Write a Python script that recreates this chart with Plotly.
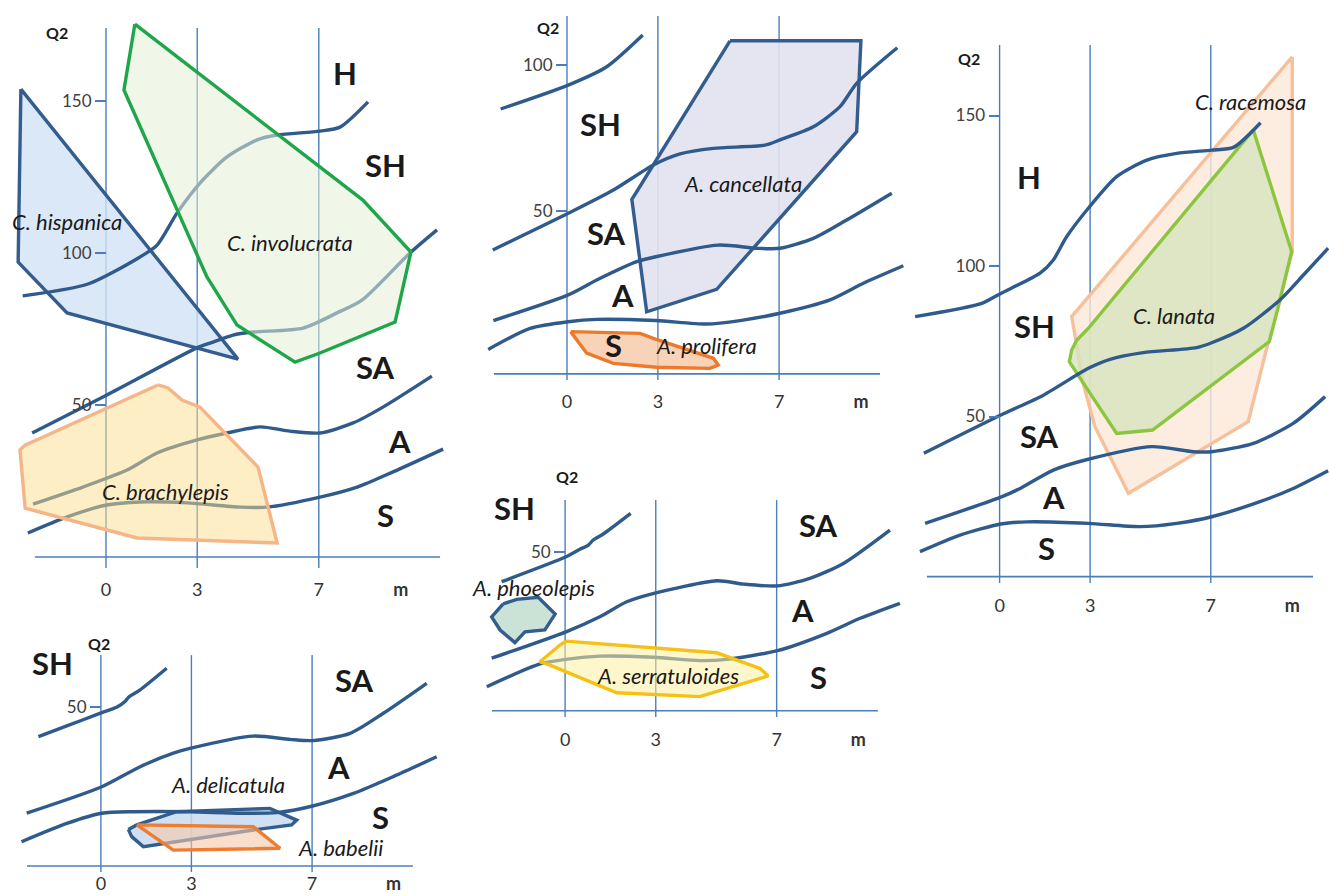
import plotly.graph_objects as go

W, H = 1329, 896
FONT = "Lato"
CURVE = "#2f5a8c"
GRID = "#4a7ebb"
TXT = "#1a1a1a"

# ----------------------------- DATA (x = m, y = Q2) -----------------------------
# Panel 1 : C. hispanica / C. involucrata / C. brachylepis
p1_hsh_m = [-2.74, -0.59, 1.12, 1.68, 2.34, 3.09, 3.98, 4.97, 5.63, 7.04, 7.70, 8.62]
p1_hsh_q = [85.9, 89.8, 98.7, 102.6, 113.2, 123.0, 131.6, 137.2, 138.8, 140.1, 141.4, 149.7]
p1_shsa_m = [-2.43, 0.03, 2.99, 3.52, 4.18, 4.84, 6.48, 7.60, 8.42, 10.0, 10.89]
p1_shsa_q = [40.8, 53.3, 68.8, 70.7, 73.0, 74.0, 75.3, 80.3, 84.5, 100.0, 107.6]
p1_saa_m = [-2.40, -0.76, 0.69, 1.68, 2.99, 3.98, 5.07, 6.05, 7.04, 8.13, 9.11, 10.72]
p1_saa_q = [17.4, 23.0, 28.6, 34.2, 38.5, 40.8, 42.8, 41.4, 40.8, 44.1, 49.3, 59.5]
p1_as_m = [-2.57, -1.28, 0.03, 1.12, 2.66, 4.41, 5.30, 7.04, 8.26, 9.44, 11.09]
p1_as_q = [7.9, 13.2, 17.1, 18.1, 17.8, 16.4, 16.4, 19.7, 23.0, 28.0, 35.5]
hispanica_m = [-2.80, 4.34, -1.28, -2.89]
hispanica_q = [153.9, 65.1, 80.3, 97.0]
involucrata_m = [0.95, 0.59, 3.32, 4.31, 6.22, 7.04, 9.51, 9.67, 10.03, 8.45]
involucrata_q = [175.3, 153.6, 92.1, 76.3, 64.1, 67.1, 77.3, 84.5, 100.3, 117.4]
brachylepis_m = [1.71, 2.04, 2.50, 3.09, 5.00, 5.63, 1.02, -2.66, -2.83, -2.66]
brachylepis_q = [56.6, 55.6, 51.6, 49.3, 29.6, 4.6, 6.25, 16.1, 35.2, 36.8]

# Panel 2 : A. cancellata / A. prolifera
p2_top_m = [-2.19, 0.04, 1.31, 2.50]
p2_top_q = [84.9, 93.1, 99.4, 110.3]
p2_shsa_m = [-2.45, 0.04, 1.53, 2.85, 3.73, 4.83, 6.53, 7.03, 8.13, 9.01, 9.56, 10.90]
p2_shsa_q = [36.5, 49.1, 57.1, 65.7, 69.5, 71.4, 72.5, 74.3, 78.8, 85.7, 93.7, 105.9]
p2_saa_m = [-2.43, 0.04, 0.98, 2.30, 2.93, 4.99, 6.26, 7.03, 8.13, 9.23, 10.72]
p2_saa_q = [12.3, 21.1, 26.2, 32.5, 34.2, 38.2, 37.1, 37.1, 40.5, 46.8, 56.0]
p2_as_m = [-2.60, -1.22, 0.04, 0.98, 2.93, 4.61, 5.71, 7.03, 8.68, 9.78, 11.10]
p2_as_q = [2.4, 9.6, 11.9, 12.7, 12.3, 11.1, 12.3, 14.8, 19.4, 25.1, 31.1]
cancellata_m = [5.38, 9.70, 9.56, 4.94, 2.63, 2.14, 2.30]
cancellata_q = [108.3, 108.3, 77.1, 23.0, 15.3, 53.9, 56.5]
prolifera_m = [0.12, 2.41, 2.85, 4.83, 4.99, 4.72, 2.96, 1.53, 0.65]
prolifera_q = [8.5, 7.9, 6.2, -0.65, -2.95, -4.1, -3.7, -2.4, 1.1]

# Panel 3 : C. racemosa / C. lanata
p3_hsh_m = [-2.80, -0.59, 0.04, 1.34, 1.78, 2.22, 2.94, 3.88, 4.88, 5.87, 7.03, 7.75, 8.65]
p3_hsh_q = [83.2, 87.6, 90.9, 97.6, 102.0, 109.7, 119.2, 129.7, 135.2, 137.4, 138.5, 139.4, 147.6]
p3_shsa_m = [-2.51, 0.04, 1.45, 2.94, 3.66, 4.76, 6.53, 7.03, 8.08, 9.29, 10.07, 10.89]
p3_shsa_q = [37.8, 50.5, 57.1, 66.0, 69.0, 71.2, 72.9, 74.5, 79.3, 88.7, 97.0, 105.9]
p3_saa_m = [-2.47, 0.04, 0.68, 1.78, 2.94, 5.04, 6.42, 7.03, 8.41, 9.73, 10.79]
p3_saa_q = [14.5, 23.2, 26.1, 32.2, 35.8, 40.0, 38.3, 38.3, 41.1, 47.7, 56.6]
p3_as_m = [-2.64, -1.31, 0.04, 0.90, 2.94, 4.65, 5.87, 7.03, 8.63, 9.73, 10.89]
p3_as_q = [5.1, 10.6, 14.3, 15.0, 14.5, 13.4, 14.5, 16.7, 21.7, 26.1, 32.0]
racemosa_m = [9.70, 9.70, 8.91, 8.24, 4.27, 3.16, 2.77, 2.39]
racemosa_q = [169.5, 104.8, 74.9, 48.3, 24.5, 46.6, 61.0, 83.2]
lanata_m = [8.41, 9.68, 9.24, 8.94, 5.07, 3.88, 3.00, 2.47, 2.31, 2.39, 2.56, 2.94]
lanata_q = [145.2, 104.8, 86.5, 74.9, 45.5, 44.4, 57.7, 66.0, 68.2, 72.1, 75.4, 79.3]

# Panel 4 : A. delicatula / A. babelii
p4_top_m = [-2.07, -1.13, 0.03, 0.52, 0.80, 0.91, 1.30, 2.18]
p4_top_q = [40.1, 43.7, 48.1, 49.9, 51.8, 53.2, 55.7, 62.9]
p4_saa_m = [-2.46, 0.03, 1.30, 2.40, 2.95, 5.05, 6.27, 7.02, 8.26, 9.36, 10.80]
p4_saa_q = [14.6, 23.4, 30.1, 34.6, 36.2, 40.3, 39.2, 38.8, 41.2, 47.9, 57.9]
p4_as_m = [-2.63, -1.13, 0.03, 1.07, 2.95, 4.61, 5.83, 7.02, 8.37, 9.69, 11.13]
p4_as_q = [5.1, 11.2, 14.6, 15.1, 15.1, 14.6, 14.8, 17.0, 21.2, 26.8, 33.4]
delicatula_m = [0.91, 1.19, 2.51, 5.60, 6.49, 6.32, 5.05, 1.41, 1.02]
delicatula_q = [9.2, 10.7, 15.1, 16.2, 12.3, 10.7, 9.0, 3.4, 6.8]
babelii_m = [1.19, 5.05, 5.94, 2.40]
babelii_q = [10.7, 10.1, 2.9, 2.3]

# Panel 5 : A. phoeolepis / A. serratuloides
p5_top_m = [-2.10, 0.03, 0.49, 0.77, 0.93, 1.26, 2.17]
p5_top_q = [40.0, 48.3, 50.8, 52.2, 53.9, 55.9, 62.8]
p5_saa_m = [-2.43, 0.03, 1.15, 2.04, 2.94, 5.02, 5.90, 7.02, 8.10, 9.21, 10.75]
p5_saa_q = [14.5, 23.3, 28.3, 33.3, 36.1, 40.3, 39.2, 38.6, 41.1, 46.1, 57.2]
p5_as_m = [-2.59, -0.83, 0.03, 1.15, 2.94, 4.46, 5.35, 7.02, 8.66, 9.76, 11.08]
p5_as_q = [5.0, 12.6, 14.1, 15.2, 14.8, 13.7, 14.1, 17.0, 22.8, 27.8, 32.8]
phoeolepis_m = [-2.05, -1.60, -0.89, -0.33, -0.67, -1.33, -1.66, -2.15, -2.43]
phoeolepis_q = [32.6, 34.1, 34.8, 29.2, 23.9, 23.3, 19.7, 23.9, 28.3]
serratuloides_m = [0.03, 5.02, 6.45, 6.72, 4.46, 1.71, -0.50, -0.83, -0.17]
serratuloides_q = [20.2, 16.3, 11.1, 8.6, 1.7, 3.0, 12.2, 13.3, 18.9]

# tick labels
x_ticks = [0, 3, 7]
x_tick_text = ["0", "3", "7"]
x_unit = "m"
y_unit = "Q2"
y_ticks = {1: [50, 100, 150], 2: [50, 100], 3: [50, 100, 150], 4: [50], 5: [50]}

# text labels: (text, m, Q2)
zone_labels = {
    1: [("H", 7.86, 159.2), ("SH", 9.21, 128.9), ("SA", 8.88, 62.5), ("A", 9.64, 38.2), ("S", 9.21, 13.8)],
    2: [("SH", 1.12, 79.8), ("SA", 1.29, 42.3), ("A", 1.82, 21.1), ("S", 1.55, 3.9)],
    3: [("H", 0.97, 129.6), ("SH", 1.17, 80.1), ("SA", 1.31, 43.5), ("A", 1.80, 23.3), ("S", 1.54, 6.3)],
    4: [("SH", -1.59, 64.7), ("SA", 8.39, 59.0), ("A", 7.89, 30.0), ("S", 9.28, 13.2)],
    5: [("SH", -1.66, 64.6), ("SA", 8.37, 58.9), ("A", 7.84, 30.6), ("S", 8.40, 8.2)],
}
species_labels = {
    1: [("C. hispanica", -1.28, 110.5), ("C. involucrata", 6.05, 103.6), ("C. brachylepis", 1.97, 21.4)],
    2: [("A. cancellata", 5.81, 59.5), ("A. prolifera", 4.62, 3.9)],
    3: [("C. racemosa", 8.30, 154.5), ("C. lanata", 5.78, 83.4)],
    4: [("A. delicatula", 4.21, 24.3), ("A. babelii", 7.93, 3.2)],
    5: [("A. phoeolepis", -1.06, 38.2), ("A. serratuloides", 3.41, 8.6)],
}
q2_label_pos = {1: (-1.61, 172.4), 2: (-0.63, 113.0), 3: (-1.01, 169.1), 4: (-0.06, 71.3), 5: (0.06, 75.2)}
unit_pos = 9.7

# ----------------------------- LAYOUT CONFIG -----------------------------
# box in pixels (left, top, right, bottom); pixel of m=0 and px per m; pixel of Q2=0 and px per Q2
panels = {
    1: dict(box=(0, 0, 455, 600), x0=106, sx=30.4, y0=557, sy=3.04, xlab=587,
            gtop=174, gbot=-3.6, axis=(-2.34, 10.99), base=0.0),
    2: dict(box=(455, 0, 910, 420), x0=567, sx=30.3, y0=356.4, sy=2.914, xlab=399,
            gtop=116.8, gbot=-8.1, axis=(-2.41, 10.33), base=-6.0),
    3: dict(box=(910, 0, 1329, 640), x0=999.6, sx=30.17, y0=567, sy=3.01, xlab=603,
            gtop=173.4, gbot=-5.3, axis=(-2.41, 10.39), base=-3.2),
    4: dict(box=(0, 600, 455, 896), x0=100.9, sx=30.17, y0=857, sy=3.0, xlab=881,
            gtop=67.3, gbot=-5.0, axis=(-2.45, 10.34), base=-3.0),
    5: dict(box=(455, 420, 910, 760), x0=565.1, sx=30.22, y0=701.7, sy=3.0, xlab=737,
            gtop=67.2, gbot=-5.1, axis=(-2.42, 10.35), base=-3.0),
}


def xr(k):
    return "x" if k == 1 else f"x{k}"


def yr(k):
    return "y" if k == 1 else f"y{k}"


fig = go.Figure()


def curve(k, xs, ys):
    fig.add_trace(go.Scatter(x=xs, y=ys, mode="lines", xaxis=xr(k), yaxis=yr(k),
                             line=dict(color=CURVE, width=3.4, shape="spline", smoothing=0.7),
                             hoverinfo="skip", showlegend=False))


def poly(k, xs, ys, line, fill, width=3.4):
    fig.add_trace(go.Scatter(x=list(xs) + [xs[0]], y=list(ys) + [ys[0]], mode="lines",
                             xaxis=xr(k), yaxis=yr(k), fill="toself", fillcolor=fill,
                             line=dict(color=line, width=width), hoverinfo="skip", showlegend=False))


# Panel 1
poly(1, hispanica_m, hispanica_q, "#335d8e", "rgba(210,226,245,0.8)")
for xs, ys in [(p1_hsh_m, p1_hsh_q), (p1_shsa_m, p1_shsa_q), (p1_saa_m, p1_saa_q), (p1_as_m, p1_as_q)]:
    curve(1, xs, ys)
poly(1, involucrata_m, involucrata_q, "#1fa64a", "rgba(228,238,214,0.55)")
poly(1, brachylepis_m, brachylepis_q, "#f5b587", "rgba(253,222,140,0.5)")

# Panel 2
poly(2, cancellata_m, cancellata_q, "#335d8e", "rgba(226,226,240,0.9)")
for xs, ys in [(p2_top_m, p2_top_q), (p2_shsa_m, p2_shsa_q), (p2_saa_m, p2_saa_q), (p2_as_m, p2_as_q)]:
    curve(2, xs, ys)
poly(2, prolifera_m, prolifera_q, "#ec7a2c", "rgba(247,200,165,0.8)")

# Panel 3
poly(3, racemosa_m, racemosa_q, "#f6c09a", "rgba(252,232,218,0.8)")
poly(3, lanata_m, lanata_q, "#8cc63f", "rgba(214,228,190,0.8)")
for xs, ys in [(p3_hsh_m, p3_hsh_q), (p3_shsa_m, p3_shsa_q), (p3_saa_m, p3_saa_q), (p3_as_m, p3_as_q)]:
    curve(3, xs, ys)

# Panel 4
poly(4, delicatula_m, delicatula_q, "#335d8e", "rgba(200,218,240,0.85)")
for xs, ys in [(p4_top_m, p4_top_q), (p4_saa_m, p4_saa_q), (p4_as_m, p4_as_q)]:
    curve(4, xs, ys)
poly(4, babelii_m, babelii_q, "#ed7d31", "rgba(245,200,170,0.6)")

# Panel 5
poly(5, phoeolepis_m, phoeolepis_q, "#335d8e", "rgba(200,225,212,0.95)")
for xs, ys in [(p5_top_m, p5_top_q), (p5_saa_m, p5_saa_q), (p5_as_m, p5_as_q)]:
    curve(5, xs, ys)
poly(5, serratuloides_m, serratuloides_q, "#f5c116", "rgba(253,240,160,0.55)")

layout = dict(width=W, height=H, margin=dict(l=0, r=0, t=0, b=0, autoexpand=False), autosize=False,
              paper_bgcolor="white", plot_bgcolor="white", showlegend=False,
              font=dict(family=FONT, color=TXT))
shapes, annotations = [], []

for k, p in panels.items():
    L, T, R, B = p["box"]
    xdom = [L / W, R / W]
    xrng = [(L - p["x0"]) / p["sx"], (R - p["x0"]) / p["sx"]]
    ydom = [1 - B / H, 1 - T / H]
    yrng = [(p["y0"] - B) / p["sy"], (p["y0"] - T) / p["sy"]]
    xkey = "xaxis" if k == 1 else f"xaxis{k}"
    ykey = "yaxis" if k == 1 else f"yaxis{k}"
    layout[xkey] = dict(domain=xdom, range=xrng, anchor="free", position=1 - (p["xlab"] - 10) / H,
                        automargin=False,
                        tickmode="array", tickvals=x_ticks + [unit_pos],
                        ticktext=x_tick_text + [f"<b>{x_unit}</b>"],
                        ticks="", showline=False, showgrid=False, zeroline=False,
                        tickfont=dict(family=FONT, size=18, color="#333333"), fixedrange=True)
    layout[ykey] = dict(domain=ydom, range=yrng, anchor="free", position=p["x0"] / W,
                        automargin=False,
                        tickmode="array", tickvals=y_ticks[k], ticks="outside", ticklen=11,
                        tickwidth=1.5, tickcolor=GRID, showline=False, showgrid=False, zeroline=False,
                        tickfont=dict(family=FONT, size=17, color="#404040"), fixedrange=True)
    # vertical reference lines at 0, 3, 7 m
    for xv in x_ticks:
        shapes.append(dict(type="line", xref=xr(k), yref=yr(k), x0=xv, x1=xv, y0=p["gbot"], y1=p["gtop"],
                           line=dict(color=GRID, width=1.4), layer="below"))
    # horizontal axis line
    shapes.append(dict(type="line", xref=xr(k), yref=yr(k), x0=p["axis"][0], x1=p["axis"][1],
                       y0=p["base"], y1=p["base"], line=dict(color=GRID, width=1.6), layer="below"))
    qx, qy = q2_label_pos[k]
    annotations.append(dict(text=f"<b>{y_unit}</b>", x=qx, y=qy, xref=xr(k), yref=yr(k), showarrow=False,
                            font=dict(family=FONT, size=16, color=TXT)))
    for t, xv, yv in zone_labels[k]:
        annotations.append(dict(text=f"<b>{t}</b>", x=xv, y=yv, xref=xr(k), yref=yr(k), showarrow=False,
                                font=dict(family=FONT, size=31, color=TXT)))
    for t, xv, yv in species_labels[k]:
        annotations.append(dict(text=f"<i>{t}</i>", x=xv, y=yv, xref=xr(k), yref=yr(k), showarrow=False,
                                font=dict(family=FONT, size=22, color=TXT)))

layout["shapes"] = shapes
layout["annotations"] = annotations
fig.update_layout(**layout)
fig.write_html("out.html", include_plotlyjs=True, config={"displayModeBar": False})
